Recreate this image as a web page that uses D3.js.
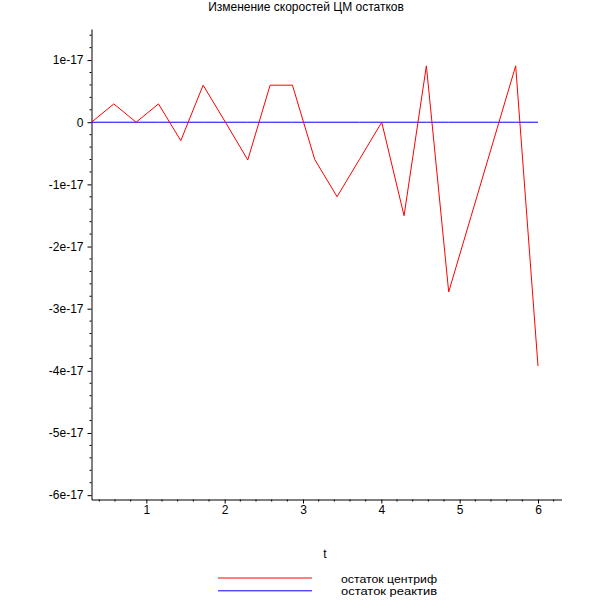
<!DOCTYPE html>
<html><head><meta charset="utf-8">
<script src="https://cdn.jsdelivr.net/npm/d3@7"></script>
<style>body{margin:0;background:#fff}svg{display:block}text{font-family:"Liberation Sans",Arial,sans-serif}</style>
</head><body>
<script>
const title = "Изменение скоростей ЦМ остатков";
const xLabel = "t";
const seriesNames = ["остаток центриф", "остаток реактив"];
const seriesColors = ["#ff0000", "#0000ff"];
const tValues = [0.3,0.585,0.87,1.155,1.44,1.725,2.01,2.295,2.58,2.865,3.15,3.435,3.72,4.005,4.29,4.575,4.86,5.145,5.43,5.715,6.0];
const centrif = [0,0.295,0,0.295,-0.296,0.596,0,-0.607,0.596,0.596,-0.6,-1.198,-0.6,0,-1.504,0.907,-2.73,-1.517,-0.305,0.907,-3.924].map(v=>v*1e-17);
const reaktiv = tValues.map(()=>0);
const xTicks = [1,2,3,4,5,6];
const yTicks = [1e-17,0,-1e-17,-2e-17,-3e-17,-4e-17,-5e-17,-6e-17];
const yTickLabels = ["1e-17","0","-1e-17","-2e-17","-3e-17","-4e-17","-5e-17","-6e-17"];

const W=612,H=612;
const svg=d3.select("body").append("svg").attr("width",W).attr("height",H);
const x=d3.scaleLinear().domain([0.3,6.3]).range([91.5,561.5]);
const y=d3.scaleLinear().domain([-6.07e-17,1.5e-17]).range([499.5,29]);

svg.append("text").attr("x",306).attr("y",11).attr("text-anchor","middle").attr("font-size",12).text(title);

const xMinor=d3.range(0.4,6.3,0.2).filter(v=>Math.abs(v-Math.round(v))>1e-6);
const yMinor=d3.range(-6.0,1.5,0.2).map(v=>v*1e-17).filter(v=>Math.abs(v/1e-17-Math.round(v/1e-17))>1e-6);

const gx=svg.append("g").attr("transform",`translate(0,${y.range()[0]})`);
gx.call(d3.axisBottom(x).tickValues(xTicks).tickFormat(d3.format("d")).tickSize(4).tickSizeOuter(0).tickPadding(2));
gx.selectAll(".minor").data(xMinor).enter().append("line").attr("x1",d=>x(d)).attr("x2",d=>x(d)).attr("y1",0).attr("y2",2).attr("stroke","#000");
const gy=svg.append("g").attr("transform",`translate(${x.range()[0]},0)`);
gy.call(d3.axisLeft(y).tickValues(yTicks).tickFormat((d,i)=>yTickLabels[i]).tickSize(4).tickSizeOuter(0).tickPadding(4));
gy.selectAll(".minor").data(yMinor).enter().append("line").attr("x1",0).attr("x2",-2).attr("y1",d=>y(d)).attr("y2",d=>y(d)).attr("stroke","#000");
svg.selectAll(".domain").attr("stroke","#000");
svg.selectAll(".tick line").attr("stroke","#000");
svg.selectAll(".tick text").attr("font-size",12).attr("font-family","Liberation Sans, Arial, sans-serif").attr("fill","#000");

const line=d3.line().x((d,i)=>x(tValues[i])).y(d=>y(d));
svg.append("path").datum(reaktiv).attr("d",line).attr("fill","none").attr("stroke",seriesColors[1]).attr("stroke-width",1);
svg.append("path").datum(centrif).attr("d",line).attr("fill","none").attr("stroke",seriesColors[0]).attr("stroke-width",1);

svg.append("text").attr("x",325).attr("y",558).attr("text-anchor","middle").attr("font-size",12).text(xLabel);

const lg=svg.append("g");
seriesNames.forEach((n,i)=>{
  const yy=578+i*12.8;
  lg.append("line").attr("x1",218).attr("x2",312).attr("y1",yy).attr("y2",yy).attr("stroke",seriesColors[i]);
  lg.append("text").attr("x",341).attr("y",yy+4.5).attr("font-size",11).attr("textLength",96).attr("lengthAdjust","spacingAndGlyphs").text(n);
});
</script>
</body></html>
